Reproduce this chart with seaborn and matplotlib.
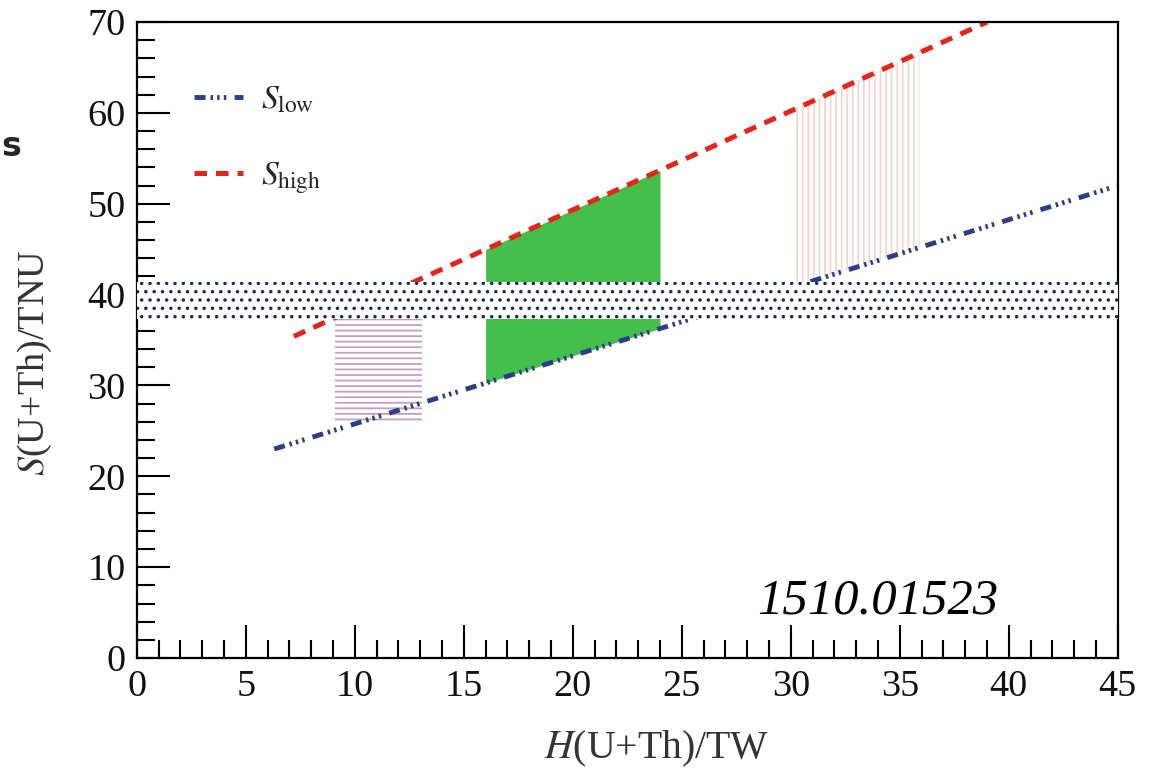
import numpy as np
import pandas as pd
import matplotlib
matplotlib.use("Agg")
import matplotlib.pyplot as plt
import seaborn as sns

# data
h_low = [6.3, 45.0]
s_low = [23.0, 52.0]
h_high = [7.2, 39.0]
s_high = [35.4, 70.0]
band_s = [37.3, 41.4]          # dotted horizontal band
green_h = [16.0, 24.0]         # green region between the two lines
horiz_h = [9.1, 13.1]          # horizontally hatched box
horiz_s = [26.0, 37.3]
vert_h = [30.1, 35.9]          # vertically hatched region
x_ticks = [0, 5, 10, 15, 20, 25, 30, 35, 40, 45]
y_ticks = [0, 10, 20, 30, 40, 50, 60, 70]

sns.set_theme(style="ticks")
plt.rcParams['font.family'] = ['Liberation Serif', 'DejaVu Serif']
plt.rcParams['mathtext.fontset'] = 'stix'
plt.rcParams['lines.scale_dashes'] = False
plt.rcParams['hatch.linewidth'] = 1.3

blue = "#2e3d88"
red = "#e8231c"
navy = "#1b2a5c"

fig = plt.figure(figsize=(11.5, 7.69), dpi=100)
ax = fig.add_axes([0.119, 0.1443, 0.853, 0.827])

low = pd.DataFrame({"H": h_low, "S": s_low})
high = pd.DataFrame({"H": h_high, "S": s_high})

# green area
gx = np.array(green_h)
ax.fill_between(gx, np.interp(gx, h_low, s_low), np.interp(gx, h_high, s_high),
                color="#45bf4b", lw=0, zorder=1)
# horizontal hatch box
ax.fill_between(horiz_h, horiz_s[0], horiz_s[1], facecolor="none",
                edgecolor="#c3a0c0", hatch="---", lw=0, zorder=1)
# vertical hatch region
vx = np.array(vert_h)
ax.fill_between(vx, np.interp(vx, h_low, s_low), np.interp(vx, h_high, s_high),
                facecolor="none", edgecolor="#f5d6ce", hatch="|||", lw=0, zorder=1)

sns.lineplot(data=low, x="H", y="S", color=blue, linewidth=3.5, ax=ax, zorder=2)
sns.lineplot(data=high, x="H", y="S", color=red, linewidth=3.6, ax=ax, zorder=2)
l_low, l_high = ax.lines[0], ax.lines[1]
l_low.set_dashes([8, 3.5, 1.8, 3, 1.8, 3, 1.8, 6])
l_high.set_dashes([9, 6.5])
l_low.set_solid_capstyle("butt")

# dotted band on top
ax.fill_between([0, 45], band_s[0], band_s[1], facecolor="white",
                edgecolor=navy, hatch="..", lw=0, zorder=3)

ax.set_xlim(0, 45)
ax.set_ylim(0, 70)
ax.set_xticks(x_ticks)
ax.set_yticks(y_ticks)
ax.set_xticks(np.arange(0, 46, 1), minor=True)
ax.set_yticks(np.arange(0, 71, 2), minor=True)
ax.tick_params(which="both", direction="in", width=1.5, color="black",
               labelsize=27.5, labelcolor="#111111")
ax.tick_params(which="major", length=24, pad=8)
ax.tick_params(which="minor", length=13)
ax.tick_params(axis="x", top=False)
ax.tick_params(axis="y", right=False)
for sp in ax.spines.values():
    sp.set_visible(True)
    sp.set_linewidth(1.6)
    sp.set_color("black")

ax.set_xlabel("$H$(U+Th)/TW", fontsize=28.5, color="#333333")
ax.set_ylabel("$S$(U+Th)/TNU", fontsize=27.5, color="#333333")
ax.xaxis.set_label_coords(0.53, -0.112)
ax.yaxis.set_label_coords(-0.084, 0.465)

ax.legend([l_low, l_high], [r"$S_{\rm low}$", r"$S_{\rm high}$"],
          loc="upper left", bbox_to_anchor=(0.028, 0.948), frameon=False,
          fontsize=24, handlelength=1.45, labelspacing=1.35, handletextpad=0.55)

ax.text(0.755, 0.09, "1510.01523", transform=ax.transAxes, fontsize=36.5,
        style="italic", ha="center", va="center", color="black")
fig.text(0.001, 0.81, "s", fontsize=24, fontweight="bold", ha="left",
         va="center", family="DejaVu Sans")

fig.savefig("out.png", dpi=100)
